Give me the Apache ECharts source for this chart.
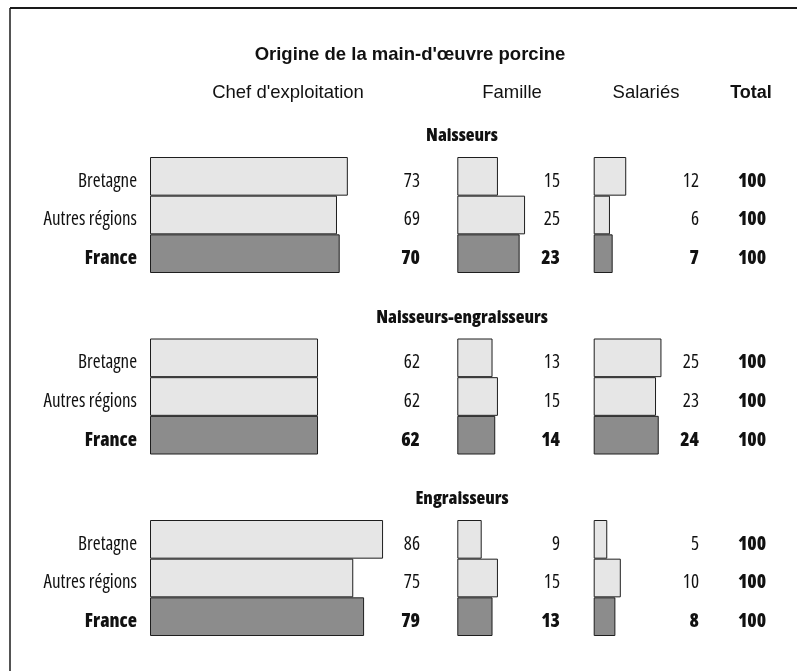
<!DOCTYPE html>
<html><head><meta charset="utf-8">
<script src="https://cdn.jsdelivr.net/npm/echarts@6/dist/echarts.min.js"></script>
<style>html,body{margin:0;padding:0;background:#fff}#c{width:797px;height:671px}</style>
</head><body><div id="c"></div>
<script>
// ---- data ----
const chartTitle = "Origine de la main-d'œuvre porcine";
const columnTitles = ["Chef d'exploitation", "Famille", "Salariés", "Total"];
const groupTitles = ["Naisseurs", "Naisseurs-engraisseurs", "Engraisseurs"];
const regions = ["Bretagne", "Autres régions", "France"];

const chefNaisseurs = [73, 69, 70];
const familleNaisseurs = [15, 25, 23];
const salariesNaisseurs = [12, 6, 7];

const chefNaisseursEngraisseurs = [62, 62, 62];
const familleNaisseursEngraisseurs = [13, 15, 14];
const salariesNaisseursEngraisseurs = [25, 23, 24];

const chefEngraisseurs = [86, 75, 79];
const familleEngraisseurs = [9, 15, 13];
const salariesEngraisseurs = [5, 10, 8];

const totalRow = [100, 100, 100];

// ---- layout ----
const NARROW = "'Open Sans', 'Liberation Sans', sans-serif";
const W_N = '500 condensed';      // regular weight, condensed width
const W_B = '800 condensed';      // heavy weight, condensed width
const FS = 19;
const REG = "'Liberation Sans', Arial, sans-serif";
const groupData = [
  [chefNaisseurs, familleNaisseurs, salariesNaisseurs, totalRow],
  [chefNaisseursEngraisseurs, familleNaisseursEngraisseurs, salariesNaisseursEngraisseurs, totalRow],
  [chefEngraisseurs, familleEngraisseurs, salariesEngraisseurs, totalRow]
];
const groupTops = [157, 338.5, 520];
const bandH = 116;
const cols = [
  {left: 150, width: 271, max: 100, dx: 270, align: 'right'},
  {left: 457.3, width: 135.5, max: 50, dx: 102.7, align: 'right'},
  {left: 593.7, width: 135.5, max: 50, dx: 105.3, align: 'right'},
  {left: 700, width: 100, max: 100, dx: 52, align: 'center'}
];
const LIGHT = '#e6e6e6', DARK = '#8c8c8c', EDGE = '#1e1e1e';

const grids = [], xAxes = [], yAxes = [], series = [];
groupData.forEach((cols4, g) => {
  cols4.forEach((vals, c) => {
    const idx = grids.length;
    const col = cols[c];
    grids.push({left: col.left, width: col.width, top: groupTops[g], height: bandH, containLabel: false});
    xAxes.push({gridIndex: idx, type: 'value', min: 0, max: col.max, show: false});
    yAxes.push({
      gridIndex: idx, type: 'category', data: regions, inverse: true,
      axisLine: {show: false}, axisTick: {show: false}, splitLine: {show: false},
      axisLabel: c === 0 ? {
        show: true, margin: 13, fontFamily: NARROW, fontWeight: W_N, fontSize: FS, color: '#111',
        padding: [10, 0, 0, 0],
        formatter: v => v === 'France' ? '{b|' + v + '}' : '{n|' + v + '}',
        rich: {
          b: {fontFamily: NARROW, fontSize: FS, fontWeight: W_B, color: '#111'},
          n: {fontFamily: NARROW, fontSize: FS, fontWeight: W_N, color: '#111'}
        }
      } : {show: false}
    });
    const isTotal = c === 3;
    series.push({
      type: 'bar', xAxisIndex: idx, yAxisIndex: idx,
      barWidth: '100%', barCategoryGap: '0%', silent: true, animation: false,
      data: vals.map((v, i) => ({
        value: v,
        itemStyle: isTotal ? {color: 'rgba(0,0,0,0)', borderWidth: 0}
                           : {color: i === 2 ? DARK : LIGHT, borderColor: EDGE, borderWidth: 1},
        label: {fontWeight: (isTotal || i === 2) ? W_B : W_N}
      })),
      label: {
        show: true, position: [col.dx, '50%'], align: col.align, verticalAlign: 'middle',
        fontFamily: NARROW, fontSize: FS, color: '#111', offset: [0, 5]
      }
    });
  });
});

const graphics = [
  {type: 'line', shape: {x1: 10, y1: 8, x2: 797, y2: 8}, style: {stroke: '#1a1a1a', lineWidth: 2}},
  {type: 'line', shape: {x1: 10, y1: 8, x2: 10, y2: 671}, style: {stroke: '#1a1a1a', lineWidth: 1.5}},
  {type: 'text', x: 410, y: 55, style: {text: chartTitle, font: 'bold 18.5px ' + REG, fill: '#111', textAlign: 'center', textVerticalAlign: 'middle'}},
  {type: 'text', x: 288, y: 93, style: {text: columnTitles[0], font: '18.5px ' + REG, fill: '#111', textAlign: 'center', textVerticalAlign: 'middle'}},
  {type: 'text', x: 512, y: 93, style: {text: columnTitles[1], font: '18.5px ' + REG, fill: '#111', textAlign: 'center', textVerticalAlign: 'middle'}},
  {type: 'text', x: 646, y: 93, style: {text: columnTitles[2], font: '18.5px ' + REG, fill: '#111', textAlign: 'center', textVerticalAlign: 'middle'}},
  {type: 'text', x: 751, y: 93, style: {text: columnTitles[3], font: 'bold 18px ' + REG, fill: '#111', textAlign: 'center', textVerticalAlign: 'middle'}}
];
groupTitles.forEach((t, g) => {
  graphics.push({type: 'text', x: 462, y: groupTops[g] - 21, style: {text: t, font: "800 condensed 18px 'Open Sans'", fill: '#111', textAlign: 'center', textVerticalAlign: 'middle'}});
});

const chart = echarts.init(document.getElementById('c'), null, {renderer: 'canvas'});
chart.setOption({
  backgroundColor: '#ffffff',
  animation: false,
  grid: grids, xAxis: xAxes, yAxis: yAxes, series: series,
  graphic: graphics
});
</script>
</body></html>
